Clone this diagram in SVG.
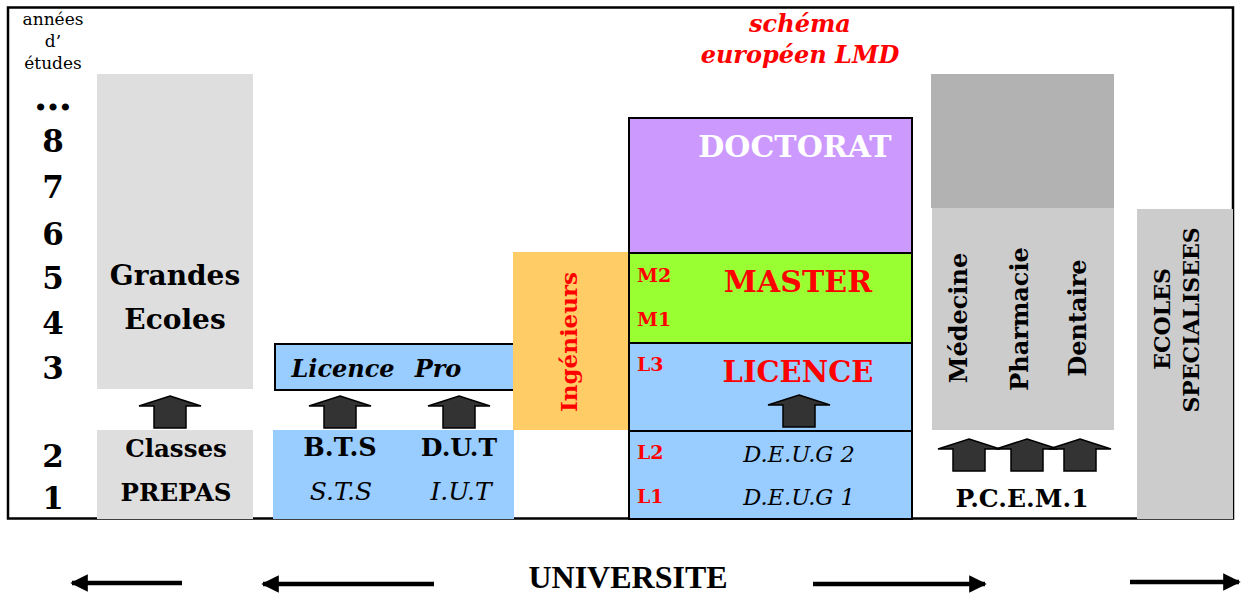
<svg xmlns="http://www.w3.org/2000/svg" width="1241" height="596" viewBox="0 0 1241 596">
<defs>
<style>
.b{font-family:"DejaVu Serif",serif;font-weight:bold;}
.yr{font-family:"DejaVu Serif",serif;font-weight:bold;font-size:31px;text-anchor:middle;fill:#000;}
.sm{font-family:"DejaVu Serif",serif;font-size:17px;text-anchor:middle;fill:#000;}
.lab{font-family:"DejaVu Serif",serif;font-weight:bold;font-size:19px;fill:#f00;}
.it{font-family:"DejaVu Serif",serif;font-style:italic;font-size:22.5px;text-anchor:middle;fill:#000;}
.mid{text-anchor:middle;}
.box{stroke:#000;stroke-width:2;}
.blk{fill:#333;stroke:#000;stroke-width:1.5;stroke-linejoin:miter;}
.ln{stroke:#000;stroke-width:4.5;fill:none;}
</style>
<path id="up" d="M0,0 L31,10 L16,10 L16,32 L-16,32 L-16,10 L-31,10 Z"/>
<marker id="ah" viewBox="0 0 10 10" refX="9" refY="5" markerWidth="3.9" markerHeight="3.9" orient="auto" markerUnits="strokeWidth">
<path d="M0,0 L10,5 L0,10 Z" fill="#000"/>
</marker>
</defs>
<rect x="0" y="0" width="1241" height="596" fill="#fff"/>

<g id="frame">
<rect x="8" y="7.5" width="1225" height="511" fill="none" stroke="#000" stroke-width="2.5"/>
</g>

<g id="years">
<text class="sm" x="53" y="25">années</text>
<text class="sm" x="53" y="47">d’</text>
<text class="sm" x="53" y="69">études</text>
<text class="yr" x="53" y="110" style="font-size:38px">…</text>
<text class="yr" x="53" y="152">8</text>
<text class="yr" x="53" y="198">7</text>
<text class="yr" x="53" y="245">6</text>
<text class="yr" x="53" y="289">5</text>
<text class="yr" x="53" y="334">4</text>
<text class="yr" x="53" y="379">3</text>
<text class="yr" x="53" y="467">2</text>
<text class="yr" x="53" y="509">1</text>
</g>

<g id="grandes-ecoles">
<rect x="97" y="74" width="156" height="315" fill="#dedede"/>
<text class="b mid" x="175" y="285" font-size="28">Grandes</text>
<text class="b mid" x="175" y="329" font-size="28">Ecoles</text>
</g>

<g id="classes-prepas">
<rect x="97" y="430" width="156" height="89" fill="#dedede"/>
<text class="b mid" x="176" y="457" font-size="24.5">Classes</text>
<text class="b mid" x="176" y="501" font-size="24.5">PREPAS</text>
</g>

<g id="licence-pro">
<rect class="box" x="275" y="344" width="239" height="46" fill="#99ccff"/>
<text class="b mid" x="343" y="377" font-size="24" font-style="italic">Licence</text>
<text class="b mid" x="438" y="377" font-size="24" font-style="italic">Pro</text>
</g>

<g id="bts-dut">
<rect x="273" y="430" width="241" height="89" fill="#99ccff"/>
<text class="b mid" x="340" y="456" font-size="25.5">B.T.S</text>
<text class="b mid" x="459" y="456" font-size="25">D.U.T</text>
<text class="it" x="341" y="500" style="font-size:25px">S.T.S</text>
<text class="it" x="461" y="500" style="font-size:25px">I.U.T</text>
</g>

<g id="ingenieurs">
<rect x="513" y="252" width="115" height="178" fill="#ffcc66"/>
<text class="b mid" transform="translate(577,342) rotate(-90)" font-size="23" fill="#f00">Ingénieurs</text>
</g>

<g id="titre">
<text class="b mid" x="800" y="32" font-size="24" font-style="italic" fill="#f00">schéma</text>
<text class="b mid" x="800" y="63" font-size="24" font-style="italic" fill="#f00">européen LMD</text>
</g>

<g id="doctorat">
<rect class="box" x="629" y="118" width="283" height="135" fill="#cc99ff"/>
<text class="b mid" x="795" y="157" font-size="30" fill="#fff">DOCTORAT</text>
</g>

<g id="master">
<rect class="box" x="629" y="253" width="283" height="90" fill="#99ff33"/>
<text class="lab" x="637" y="282">M2</text>
<text class="lab" x="637" y="326">M1</text>
<text class="b mid" x="798" y="292" font-size="30" fill="#f00">MASTER</text>
</g>

<g id="licence">
<rect class="box" x="629" y="343" width="283" height="88" fill="#99ccff"/>
<text class="lab" x="637" y="371">L3</text>
<text class="b mid" x="798" y="382" font-size="29" fill="#f00">LICENCE</text>
</g>

<g id="deug">
<rect class="box" x="629" y="431" width="283" height="88" fill="#99ccff"/>
<text class="lab" x="637" y="459">L2</text>
<text class="lab" x="637" y="503">L1</text>
<text class="it" x="799" y="462">D.E.U.G 2</text>
<text class="it" x="799" y="505">D.E.U.G 1</text>
</g>

<g id="sante-sup">
<rect x="931" y="74" width="183" height="134" fill="#b2b2b2"/>
</g>

<g id="sante">
<rect x="932" y="208" width="182" height="222" fill="#cccccc"/>
<text class="b mid" transform="translate(967,318) rotate(-90)" font-size="24">Médecine</text>
<text class="b mid" transform="translate(1028,319) rotate(-90)" font-size="24">Pharmacie</text>
<text class="b mid" transform="translate(1086,318) rotate(-90)" font-size="24">Dentaire</text>
</g>

<g id="pcem">
<text class="b mid" x="1022" y="507" font-size="25">P.C.E.M.1</text>
</g>

<g id="ecoles-specialisees">
<rect x="1137" y="209" width="96" height="310" fill="#cccccc"/>
<text class="b mid" transform="translate(1170,319) rotate(-90)" font-size="22">ECOLES</text>
<text class="b mid" transform="translate(1199,320) rotate(-90)" font-size="22">SPECIALISEES</text>
</g>

<g id="universite">
<text x="628" y="588" font-family="Liberation Serif, serif" font-weight="bold" font-size="32" text-anchor="middle">UNIVERSITE</text>
</g>

<g id="connectors">
<use href="#up" class="blk" transform="translate(170,396)"/>
<use href="#up" class="blk" transform="translate(340,396)"/>
<use href="#up" class="blk" transform="translate(459,396)"/>
<use href="#up" class="blk" transform="translate(799,395)"/>
<use href="#up" class="blk" transform="translate(969,439)"/>
<use href="#up" class="blk" transform="translate(1027,439)"/>
<use href="#up" class="blk" transform="translate(1080,439)"/>
<line class="ln" x1="182" y1="583" x2="72" y2="583" marker-end="url(#ah)"/>
<line class="ln" x1="434" y1="584" x2="263" y2="584" marker-end="url(#ah)"/>
<line class="ln" x1="813" y1="584" x2="985" y2="584" marker-end="url(#ah)"/>
<line class="ln" x1="1130" y1="582" x2="1239" y2="582" marker-end="url(#ah)"/>
</g>
</svg>
